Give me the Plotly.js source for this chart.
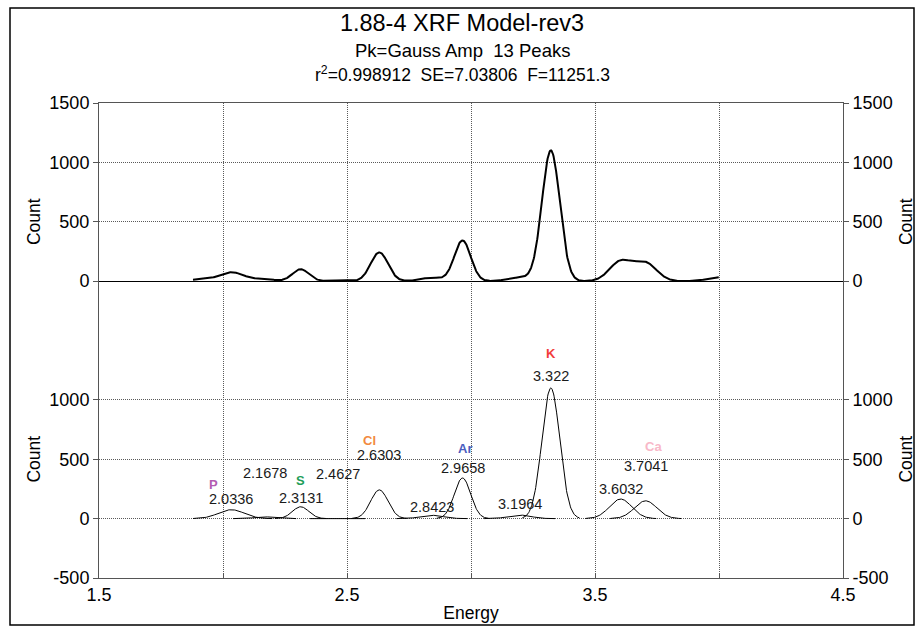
<!DOCTYPE html>
<html>
<head>
<meta charset="utf-8">
<script src="https://cdn.plot.ly/plotly-3.0.1.min.js"></script>
<style>
  html, body { margin: 0; padding: 0; background: #fff; }
  #chart { width: 924px; height: 634px; }
</style>
</head>
<body>
<div id="chart"></div>
<script>
// Fitted Gaussian peaks: centre energy (keV), amplitude (counts), sigma (keV)
const peakCenters = [2.0336, 2.1678, 2.3131, 2.4627, 2.6303, 2.8423, 2.9658, 3.1964, 3.322, 3.6032, 3.7041];
const peakAmps    = [75, 15, 100, 6, 242, 28, 342, 30, 1100, 165, 150];
const peakWidths  = [0.052, 0.040, 0.033, 0.035, 0.035, 0.045, 0.033, 0.045, 0.036, 0.045, 0.045];

// The two remaining peaks of the 13-peak model sit at the ends of the window
const edgeCenters = [1.90, 4.0];
const edgeAmps    = [12, 33];
const edgeWidths  = [0.040, 0.045];

// Element assigned to each labelled peak ('' = none)
const elementNames = ['P', '', 'S', '', 'Cl', '', 'Ar', '', 'K', '', 'Ca'];

// Energy window of the fit
const fitRange = [1.879, 4.0];

// Axis ticks
const energyTicks = [1.5, 2.5, 3.5, 4.5];
const energyMinorTicks = [2, 3, 4];
const countTicksLower = [-500, 0, 500, 1000];
const countTicksUpper = [0, 500, 1000, 1500];

// ---- label placement (counts on the lower panel, pixel nudges) ----
const valueLabelY = [165, 384, 173, 375, 535, 98, 426, 124, 1201, 249, 443];
const elementLabelY = [291, 0, 325, 0, 662, 0, 594, 0, 1394, 0, 611];
const elementShift = [-18, 0, 0, 0, -10, 0, 2, 0, 0, 0, 8];
const elementColors = {P: '#b35db3', S: '#1e9e58', Cl: '#f28a3e', Ar: '#4b5ec0', K: '#f23c3c', Ca: '#f8b8c8'};

function gauss(x, c, a, s) {
  const d = (x - c) / s;
  return a * Math.exp(-0.5 * d * d);
}

// sample grid across the fit window
const step = 0.002;
const xs = [];
for (let x = fitRange[0]; x <= fitRange[1] + 1e-9; x += step) xs.push(+x.toFixed(4));

const allC = peakCenters.concat(edgeCenters);
const allA = peakAmps.concat(edgeAmps);
const allW = peakWidths.concat(edgeWidths);

// full model (sum of all peaks) for the upper panel
const sumY = xs.map(x => allC.reduce((acc, c, i) => acc + gauss(x, c, allA[i], allW[i]), 0));

const traces = [{
  x: xs, y: sumY, xaxis: 'x2', yaxis: 'y2', type: 'scatter', mode: 'lines',
  line: {color: '#000', width: 2}, hoverinfo: 'skip'
}];

// individual peak curves for the lower panel
peakCenters.forEach((c, i) => {
  const s = peakWidths[i];
  const lo = Math.max(fitRange[0], c - 3.2 * s);
  const hi = Math.min(fitRange[1], c + 3.2 * s);
  const px = xs.filter(x => x >= lo && x <= hi);
  traces.push({
    x: px, y: px.map(x => gauss(x, c, peakAmps[i], s)),
    xaxis: 'x', yaxis: 'y', type: 'scatter', mode: 'lines',
    line: {color: '#000', width: 1}, hoverinfo: 'skip'
  });
});

// empty traces so the right-hand count axes get drawn
traces.push({x: [], y: [], xaxis: 'x', yaxis: 'y3', type: 'scatter', mode: 'lines', hoverinfo: 'skip'});
traces.push({x: [], y: [], xaxis: 'x2', yaxis: 'y4', type: 'scatter', mode: 'lines', hoverinfo: 'skip'});

const annotations = [];
peakCenters.forEach((c, i) => {
  annotations.push({
    x: c, y: valueLabelY[i], xref: 'x', yref: 'y', text: String(c), showarrow: false,
    font: {size: 14.5, color: '#1a1a1a'}
  });
  const el = elementNames[i];
  if (el) {
    annotations.push({
      x: c, y: elementLabelY[i], xref: 'x', yref: 'y', text: '<b>' + el + '</b>', showarrow: false,
      xshift: elementShift[i], font: {size: 13, color: elementColors[el]}
    });
  }
});

const centreX = (462 - 99) / 744;
annotations.push({
  xref: 'paper', yref: 'paper', x: centreX, y: (578 - 50) / 475, yanchor: 'middle', showarrow: false,
  text: 'Pk=Gauss Amp\u00a0 13 Peaks', font: {size: 18.5}
});
annotations.push({
  xref: 'paper', yref: 'paper', x: centreX, y: (578 - 74) / 475, yanchor: 'middle', showarrow: false,
  text: 'r<sup>2</sup>=0.998912\u00a0 SE=7.03806\u00a0 F=11251.3', font: {size: 17.5}
});

const gridCol = '#5a5a5a';
const gridDash = '1px,1px';
const lineCol = '#555';
const grid = {showgrid: true, gridcolor: gridCol, griddash: gridDash, gridwidth: 1};
const countRange = [-500, 1500];
const titleFont = {size: 17.5};
const tickFont = {size: 18};
const fmt = v => String(v);

const xMinor = {tickvals: energyMinorTicks, ticks: 'inside', ticklen: 5, tickcolor: lineCol,
                showgrid: true, gridcolor: gridCol, griddash: gridDash, gridwidth: 1};

const layout = {
  width: 924, height: 634,
  margin: {l: 99, r: 81, t: 103, b: 56},
  paper_bgcolor: '#fff', plot_bgcolor: '#fff',
  showlegend: false,
  font: {family: '"Liberation Sans", Arial, sans-serif', size: 16, color: '#000'},
  title: {text: '1.88-4 XRF Model-rev3', font: {size: 23.5}, x: 0.5, xanchor: 'center',
          yref: 'container', y: 1 - 23 / 634, yanchor: 'middle'},
  xaxis: Object.assign({
    domain: [0, 1], anchor: 'y', range: [1.5, 4.5],
    tickvals: energyTicks, ticktext: energyTicks.map(fmt), tickfont: tickFont,
    ticks: 'inside', ticklen: 5, tickcolor: lineCol, minor: xMinor,
    showline: true, linecolor: lineCol, linewidth: 1, zeroline: false,
    title: {text: 'Energy', font: titleFont, standoff: 3}
  }, grid),
  xaxis2: Object.assign({
    domain: [0, 1], anchor: 'y2', matches: 'x', range: [1.5, 4.5], side: 'top',
    tickvals: energyTicks, showticklabels: false, ticks: '',
    minor: Object.assign({}, xMinor, {ticks: ''}),
    showline: true, linecolor: lineCol, linewidth: 1, zeroline: false
  }, grid),
  yaxis: Object.assign({
    domain: [0, 0.5], anchor: 'x', range: countRange,
    tickvals: countTicksLower, ticktext: countTicksLower.map(fmt), tickfont: tickFont,
    ticks: 'outside', ticklen: 5, tickcolor: lineCol,
    showline: true, linecolor: lineCol, linewidth: 1, zeroline: false,
    minor: {tickvals: [1500], ticks: '', showgrid: true, gridcolor: gridCol, griddash: gridDash, gridwidth: 1},
    title: {text: 'Count', font: titleFont, standoff: 4}
  }, grid),
  yaxis2: Object.assign({
    domain: [0.5, 1], anchor: 'x2', range: countRange,
    tickvals: countTicksUpper, ticktext: countTicksUpper.map(fmt), tickfont: tickFont,
    ticks: 'outside', ticklen: 5, tickcolor: lineCol,
    showline: true, linecolor: lineCol, linewidth: 1,
    zeroline: true, zerolinecolor: '#000', zerolinewidth: 1,
    title: {text: 'Count', font: titleFont, standoff: 4}
  }, grid),
  yaxis3: {
    overlaying: 'y', side: 'right', anchor: 'x', range: countRange,
    tickvals: countTicksLower, ticktext: countTicksLower.map(fmt), tickfont: tickFont,
    ticks: 'outside', ticklen: 5, tickcolor: lineCol,
    showline: true, linecolor: lineCol, linewidth: 1, showgrid: false, zeroline: false,
    title: {text: 'Count', font: titleFont, standoff: 8}
  },
  yaxis4: {
    overlaying: 'y2', side: 'right', anchor: 'x2', range: countRange,
    tickvals: countTicksUpper, ticktext: countTicksUpper.map(fmt), tickfont: tickFont,
    ticks: 'outside', ticklen: 5, tickcolor: lineCol,
    showline: true, linecolor: lineCol, linewidth: 1, showgrid: false, zeroline: false,
    title: {text: 'Count', font: titleFont, standoff: 8}
  },
  annotations: annotations,
  shapes: [{
    type: 'rect', xref: 'paper', yref: 'paper',
    x0: (10 - 99) / 744, x1: (914 - 99) / 744, y0: (578 - 625) / 475, y1: (578 - 8) / 475,
    line: {color: '#000', width: 1.5}, fillcolor: 'rgba(0,0,0,0)'
  }]
};

Plotly.newPlot('chart', traces, layout, {staticPlot: true, displayModeBar: false});
</script>
</body>
</html>
